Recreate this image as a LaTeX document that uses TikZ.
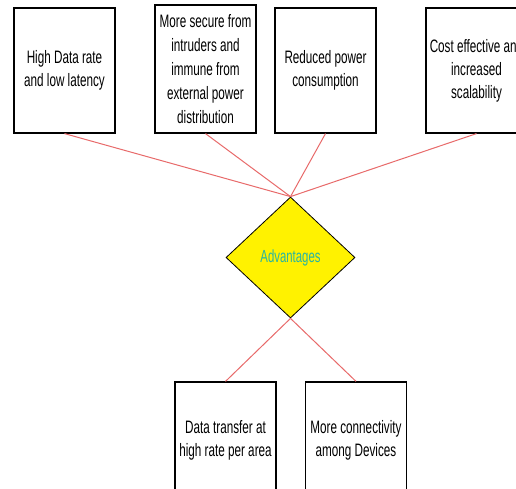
\documentclass[tikz,border=0pt]{standalone}
\usepackage{fontspec}
\setmainfont{Liberation Sans}[FakeStretch=0.65]
\usetikzlibrary{shapes.geometric}
\definecolor{linkred}{HTML}{E86A6A}
\definecolor{advteal}{HTML}{2AB5A0}
\begin{document}
\begin{tikzpicture}[x=1pt,y=-1pt,
  box/.style={draw=black,line width=1.2pt,fill=white,minimum width=101pt,inner sep=0pt,align=center,
    font=\fontsize{18}{23}\selectfont},
  link/.style={draw=linkred,line width=1pt}]
\useasboundingbox (0,0) rectangle (516,489);
\clip (0,0) rectangle (516,489);
\fill[white] (0,0) rectangle (516,489);
\node[box,minimum height=125pt] (b1) at (64.5,70.5) {High Data rate\\and low latency};
\node[box,minimum height=128pt,font=\fontsize{18}{24}\selectfont] (b2) at (205.5,69) {More secure from\\intruders and\\immune from\\external power\\distribution};
\node[box,minimum height=125pt] (b3) at (325.5,70.5) {Reduced power\\consumption};
\node[box,minimum height=125pt] (b4) at (476.5,70.5) {Cost effective and\\increased\\scalability};
\node[box,minimum height=116pt] (b5) at (225.5,440) {Data transfer at\\high rate per area};
\node[box,minimum height=116pt] (b6) at (356,440) {More connectivity\\among Devices};
\node[diamond,draw=black,line width=0.8pt,fill=yellow,minimum width=129pt,minimum height=121pt,
  aspect=1.07,inner sep=0pt,text=advteal,font=\fontsize{17.5}{20}\selectfont] (d) at (290.5,257.5) {Advantages};
\draw[link] (b1.south) -- (d.north);
\draw[link] (b2.south) -- (d.north);
\draw[link] (b3.south) -- (d.north);
\draw[link] (b4.south) -- (d.north);
\draw[link] (d.south) -- (b5.north);
\draw[link] (d.south) -- (b6.north);
\end{tikzpicture}
\end{document}
